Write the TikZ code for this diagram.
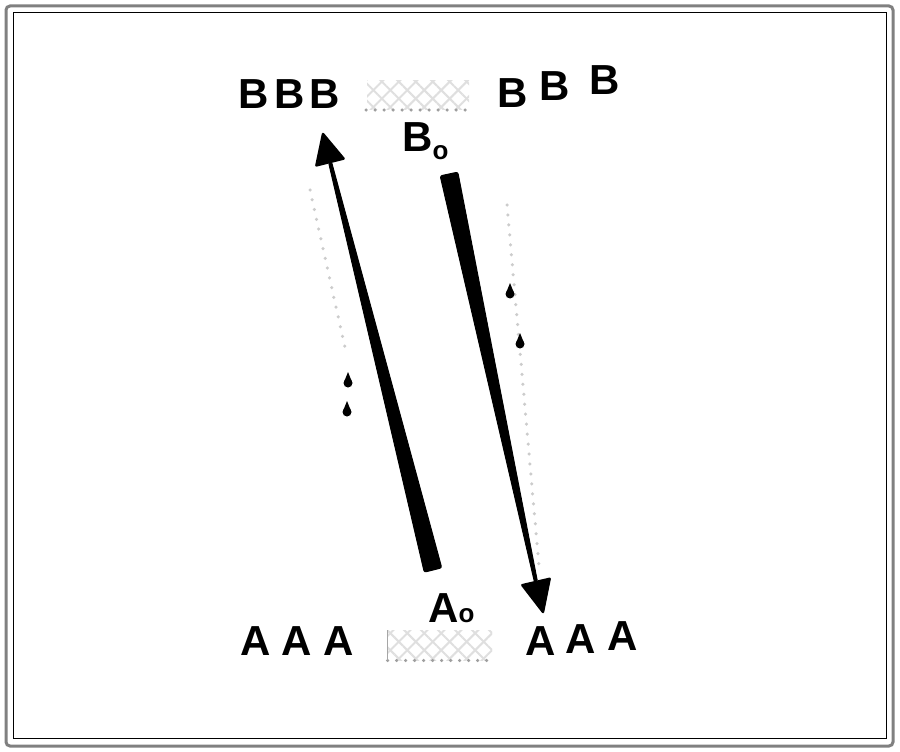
\documentclass[tikz,border=0pt]{standalone}
\usepackage{fontspec}
\setmainfont{Liberation Sans}
\usetikzlibrary{calc, patterns, patterns.meta, positioning}
\tikzset{>=stealth}
\tikzset{
  letter/.style={font=\fontsize{42}{42}\selectfont\bfseries, inner sep=0pt, anchor=base},
  hatchbox/.style={inner sep=0pt, pattern={Lines[angle=45, distance=12pt, line width=2pt]}, pattern color=gray!25,
    postaction={pattern={Lines[angle=-45, distance=12pt, line width=2pt]}, pattern color=gray!25}},
  faint/.style={gray!40, line width=3.5pt, line cap=round, dash pattern=on 0pt off 10pt},
  bar/.style={fill=black, draw=black, line width=1pt, rounded corners=2pt},
  head/.style={fill=black, draw=black, line width=2.5pt, line join=round}
}
\newcommand{\subo}[1]{\raisebox{#1}{\fontsize{26}{26}\selectfont o}}
\newcommand{\dropat}[2]{\fill (#1,#2+2) circle (4.5); \fill (#1-4,#2+1) -- (#1,#2-9) -- (#1+4,#2+1) -- cycle;}
\begin{document}
\begin{tikzpicture}[x=1pt, y=-1pt, thick]
		\useasboundingbox (0,0) rectangle (900,752);
		\draw[gray, line width=3pt, rounded corners=4pt] (6,6) rectangle (893,746);
		\draw[line width=1pt] (13,13) rectangle (886,738);
		% top row
		\node[letter] (b1) at (254,108) {B}; \node[letter] (b2) at (290,108) {B};
		\node[letter] (b3) at (325,108) {B};
		\node[letter] (b4) at (513,107) {B}; \node[letter] (b5) at (555,100) {B};
		\node[letter] (b6) at (605,95) {B};
		\node[hatchbox, minimum width=102pt, minimum height=28pt] (tb) at (418,95) {};
		\draw[gray!75, line width=3.5pt, line cap=round, dash pattern=on 0pt off 9pt] (tb.south west) -- (tb.south east);
		\node[letter, anchor=base west] (bo) at (402,151) {B\subo{-8pt}};
		% bottom row
		\node[letter] (a1) at (256,655) {A}; \node[letter] (a2) at (297,655) {A};
		\node[letter] (a3) at (339,655) {A};
		\node[letter] (a4) at (541,655) {A}; \node[letter] (a5) at (581,653) {A};
		\node[letter] (a6) at (623,650) {A};
		\node[hatchbox, minimum width=104pt, minimum height=30pt] (bb) at (440,645) {};
		\draw[gray!75, line width=3.5pt, line cap=round, dash pattern=on 0pt off 9pt] (bb.south west) -- (bb.south east);
		\draw[gray!70, line width=1.5pt] (bb.south west) -- (bb.north west);
		\node[letter, anchor=base west] (ao) at (428,622) {A\subo{0pt}};
		% faint lines
		\coordinate (p0) at (310,190); \coordinate (p1) at (346,352);
		\draw[faint] (p0) -- (p1);
		\dropat{348}{381} \dropat{347}{410}
		\coordinate (q0) at (507,205); \coordinate (q1) at (539,566);
		\draw[faint] (q0) -- (q1);
		\dropat{510}{292} \dropat{520}{342}
		% left bar, up
		\coordinate (l0) at (433,570); \coordinate (l1) at (330,162); \coordinate (lh) at (323,134);
		\path[bar] ($(l0)!9pt!90:(l1)$) -- ($(l1)!1.5pt!-90:(l0)$) -- ($(l1)!1.5pt!90:(l0)$) -- ($(l0)!9pt!-90:(l1)$) -- cycle;
		\path[head] (lh) -- ($(l1)!14pt!90:(lh)$) -- ($(l1)!14pt!-90:(lh)$) -- cycle;
		% right bar, down
		\coordinate (r0) at (449,174); \coordinate (r1) at (536,582); \coordinate (rh) at (543,612);
		\path[bar] ($(r0)!9pt!90:(r1)$) -- ($(r1)!1.5pt!-90:(r0)$) -- ($(r1)!1.5pt!90:(r0)$) -- ($(r0)!9pt!-90:(r1)$) -- cycle;
		\path[head] (rh) -- ($(r1)!14pt!90:(rh)$) -- ($(r1)!14pt!-90:(rh)$) -- cycle;
\end{tikzpicture}
\end{document}
